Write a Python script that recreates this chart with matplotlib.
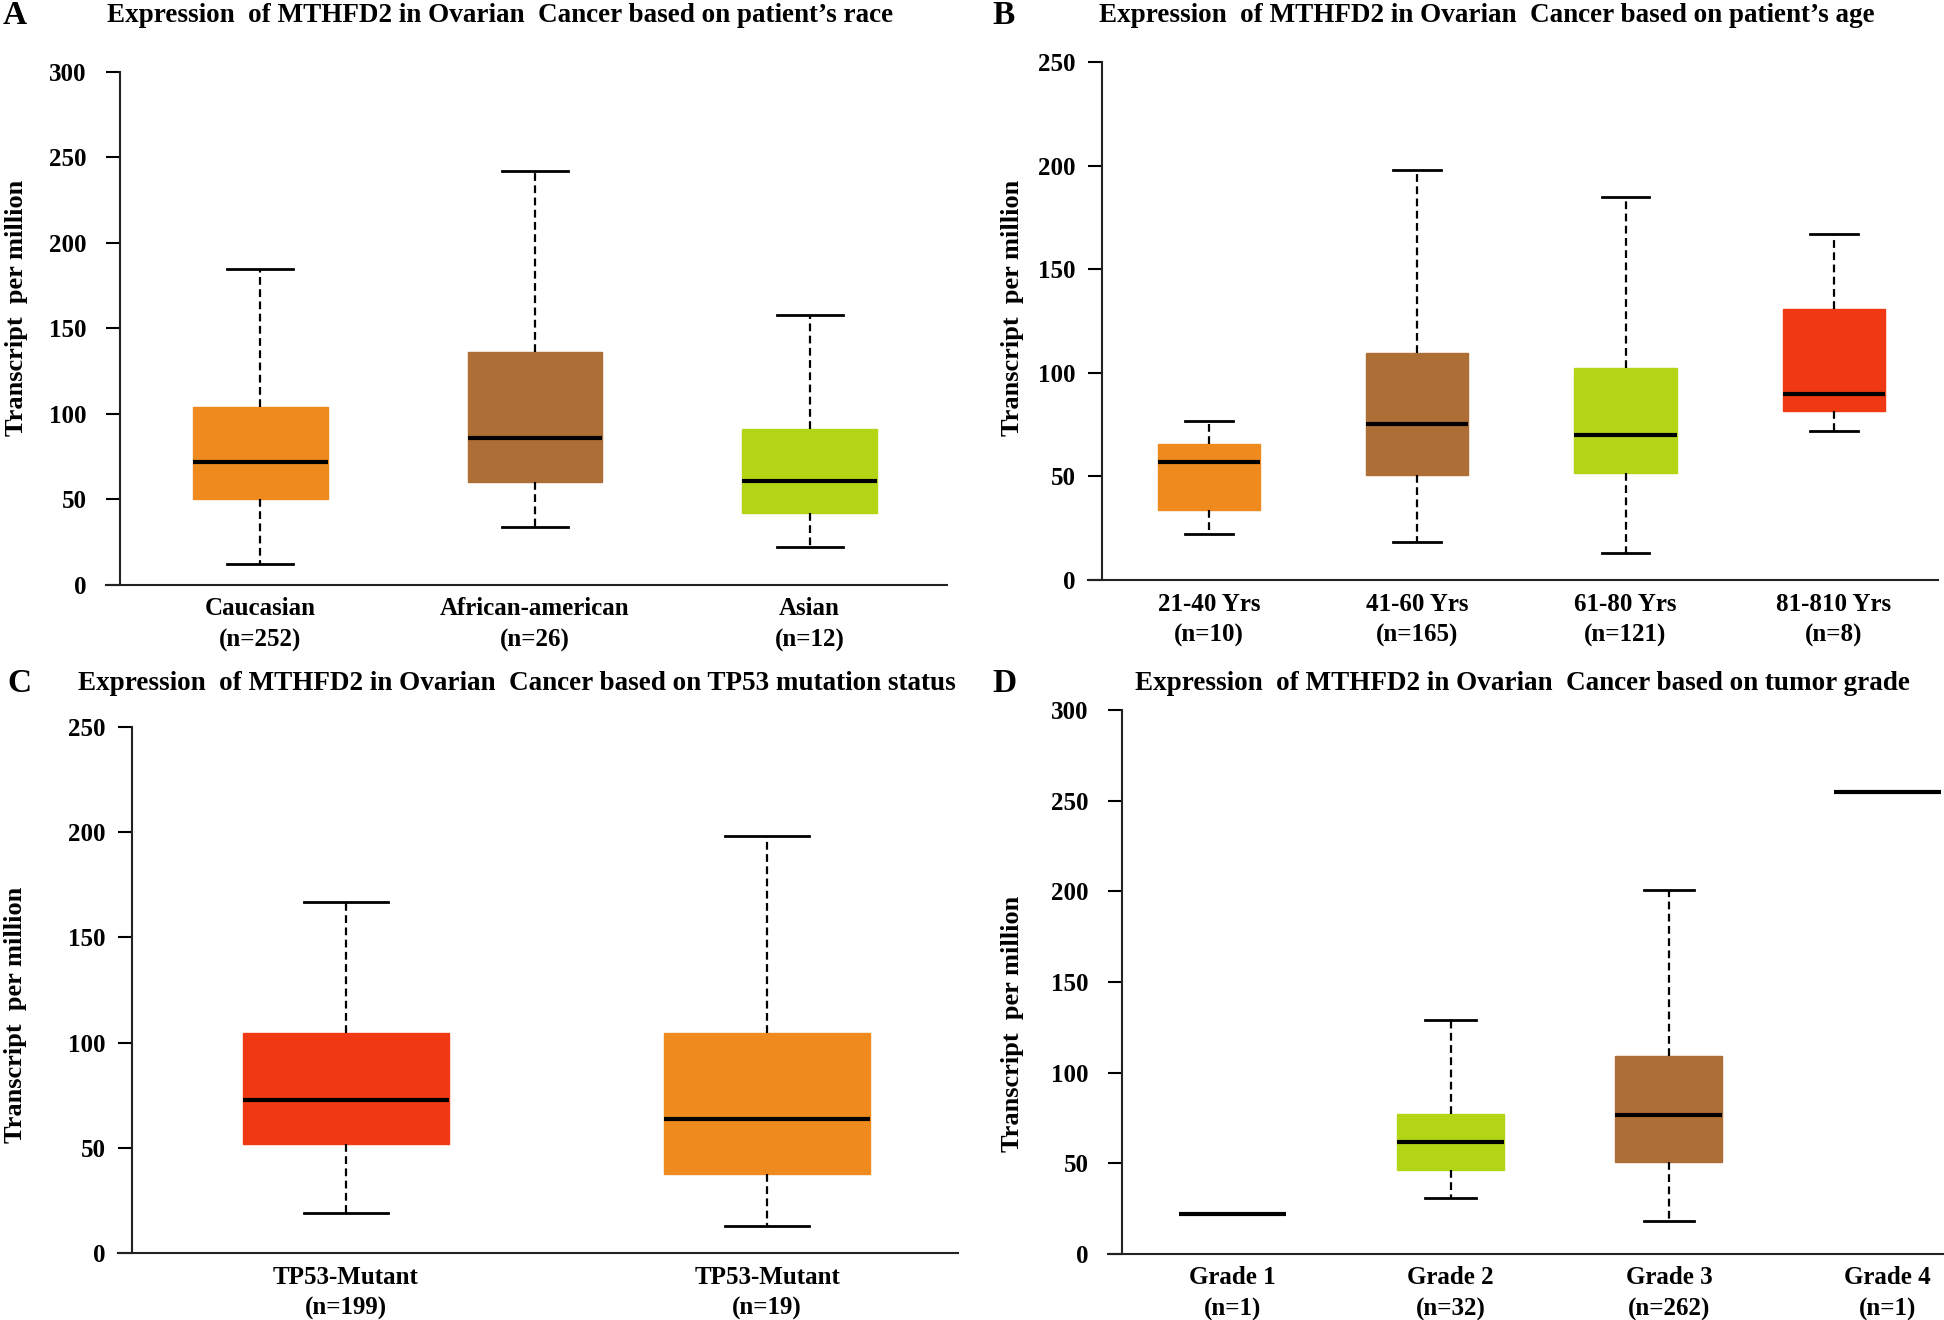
import matplotlib
matplotlib.use("Agg")
import matplotlib.pyplot as plt

plt.rcParams["font.family"] = ["Liberation Serif", "DejaVu Serif"]
plt.rcParams["font.weight"] = "bold"

ORANGE = "#EE8A1E"
BROWN = "#AD6F35"
GREEN = "#B2D616"
RED = "#F03912"

# A: race
race_labels = ["Caucasian\n(n=252)", "African-american\n(n=26)", "Asian\n(n=12)"]
race_low = [12, 34, 22]
race_q1 = [50, 60, 42]
race_med = [72, 86, 61]
race_q3 = [104, 136, 91]
race_high = [185, 242, 158]

# B: age
age_labels = ["21-40 Yrs\n(n=10)", "41-60 Yrs\n(n=165)", "61-80 Yrs\n(n=121)", "81-810 Yrs\n(n=8)"]
age_low = [22, 18.5, 13, 72]
age_q1 = [34, 50.5, 51.5, 81.5]
age_med = [57, 75.5, 70, 90]
age_q3 = [65.5, 109.5, 102.5, 131]
age_high = [76.5, 198, 185, 167]

# C: TP53 status
tp53_labels = ["TP53-Mutant\n(n=199)", "TP53-Mutant\n(n=19)"]
tp53_low = [19, 13]
tp53_q1 = [52, 37.5]
tp53_med = [72.5, 63.5]
tp53_q3 = [104.5, 104.5]
tp53_high = [167, 198]

# D: tumor grade
grade_labels = ["Grade 1\n(n=1)", "Grade 2\n(n=32)", "Grade 3\n(n=262)", "Grade 4\n(n=1)"]
grade_low = [22, 31, 18, 255]
grade_q1 = [22, 46.5, 51, 255]
grade_med = [22, 61.5, 76.5, 255]
grade_q3 = [22, 77, 109, 255]
grade_high = [22, 129, 200.5, 255]

W, H = 1944, 1320
fig = plt.figure(figsize=(W / 100, H / 100), dpi=100)


def box_panel(rect, labels, low, q1, med, q3, high, colors, ymax, xlim, capw, ypad):
    l, r, t, b = rect
    ax = fig.add_axes([l / W, 1 - b / H, (r - l) / W, (b - t) / H])
    stats = []
    for i in range(len(labels)):
        stats.append({"whislo": low[i], "q1": q1[i], "med": med[i],
                      "q3": q3[i], "whishi": high[i], "fliers": []})
    res = ax.bxp(stats, positions=range(1, len(labels) + 1), widths=0.49,
                 capwidths=capw, patch_artist=True, showfliers=False,
                 whiskerprops=dict(color="black", lw=1.6, linestyle=(0, (3.5, 2))),
                 capprops=dict(color="black", lw=2),
                 medianprops=dict(color="black", lw=3, solid_capstyle="butt"))
    for patch, c in zip(res["boxes"], colors):
        if c is None:
            patch.set_visible(False)
        else:
            patch.set_facecolor(c)
            patch.set_edgecolor(c)
    ax.set_xlim(*xlim)
    ax.set_ylim(0, ymax)
    ax.set_yticks(range(0, ymax + 1, 50))
    ax.set_xticks(range(1, len(labels) + 1))
    ax.set_xticklabels(labels, fontsize=18, fontweight="bold", linespacing=1.45)
    ax.tick_params(axis="x", length=0, pad=9)
    ax.tick_params(axis="y", length=10, width=1.5, labelsize=18, pad=ypad)
    for s in ["top", "right"]:
        ax.spines[s].set_visible(False)
    ax.spines["left"].set_position(("outward", -10))
    for s in ["left", "bottom"]:
        ax.spines[s].set_linewidth(1.5)
        ax.spines[s].set_color("#222222")
    return ax


box_panel((106, 947, 72, 585), race_labels, race_low, race_q1, race_med, race_q3, race_high,
          [ORANGE, BROWN, GREEN], 300, (0.438, 3.50), 0.24, 14)
box_panel((1088, 1938, 62, 580), age_labels, age_low, age_q1, age_med, age_q3, age_high,
          [ORANGE, BROWN, GREEN, RED], 250, (0.42, 4.50), 0.23, 9)
box_panel((118, 958, 727, 1253), tp53_labels, tp53_low, tp53_q1, tp53_med, tp53_q3, tp53_high,
          [RED, ORANGE], 250, (0.459, 2.453), 0.2, 9)
box_panel((1108, 1944, 710, 1254), grade_labels, grade_low, grade_q1, grade_med, grade_q3, grade_high,
          [None, GREEN, BROWN, None], 300, (0.431, 4.26), 0.23, 14)

titles = [
    ("A", 15, 15, "Expression  of MTHFD2 in Ovarian  Cancer based on patient\u2019s race", 500, 15),
    ("B", 1004, 15, "Expression  of MTHFD2 in Ovarian  Cancer based on patient\u2019s age", 1487, 15),
    ("C", 19, 683, "Expression  of MTHFD2 in Ovarian  Cancer based on TP53 mutation status", 517, 683),
    ("D", 1004, 683, "Expression  of MTHFD2 in Ovarian  Cancer based on tumor grade", 1522, 683),
]
for letter, lx, ly, title, tx, ty in titles:
    fig.text(lx / W, 1 - ly / H, letter, fontsize=24, fontweight="bold", ha="center", va="center")
    fig.text(tx / W, 1 - ty / H, title, fontsize=19.5, fontweight="bold", ha="center", va="center")

for x, y in [(17, 308), (1013, 308), (16, 1015), (1013, 1024)]:
    fig.text(x / W, 1 - y / H, "Transcript  per million", fontsize=19, fontweight="bold",
             rotation=90, ha="center", va="center")

fig.savefig("out.png", dpi=100)
